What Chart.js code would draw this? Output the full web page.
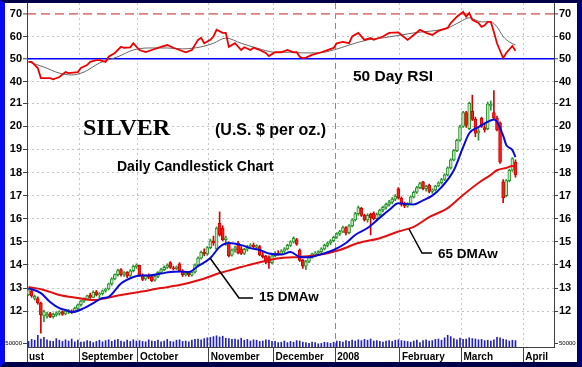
<!DOCTYPE html>
<html><head><meta charset="utf-8">
<script src="https://cdn.jsdelivr.net/npm/chart.js@4.4.1/dist/chart.umd.min.js"></script>
<style>
html,body{margin:0;padding:0;background:#fff;}
#frame{position:absolute;left:0;top:0;width:572px;height:359px;border-style:solid;border-width:3px 5px 5px 5px;border-color:#000048 #00007a #00004a #0a0af0;background:#fff;}
canvas{display:block;}
</style></head><body>
<div id="frame"><canvas id="c" width="572" height="359"></canvas></div>
<script>
// ---- axis ticks ----
const monthTicks = [-0.5, 16.5, 35.5, 58.5, 79.5, 99.5, 120.5, 140.5, 160.5];
const monthLabels = ['ust','September','October','November','December','2008','February','March','April'];
const priceTicks = [12,13,14,15,16,17,18,19,20,21];
const rsiTicks = [40,50,60,70];
const volTicks = [50000];

// ---- daily candles (trading day index 0 = early Aug 2007) ----
const open = [
12.72,12.88,12.55,12.55,12.35,11.80,11.78,11.90,11.76,11.84,11.90,11.98,11.88,11.96,12.02,11.98,12.12,
12.28,12.44,12.52,12.70,12.60,12.84,12.70,12.76,12.88,12.96,13.18,13.40,13.58,13.80,13.60,13.68,13.55,13.75,13.92,
13.98,13.56,13.40,13.55,13.50,13.34,13.50,13.68,13.80,13.90,14.10,13.88,13.84,14.05,13.75,13.58,13.64,13.56,13.70,14.00,14.30,14.55,14.48,
14.75,15.05,14.70,15.80,15.60,15.10,14.95,14.42,14.65,14.95,14.70,14.50,14.68,14.80,14.86,14.76,14.80,14.44,14.38,14.32,14.10,
14.40,14.52,14.48,14.60,14.70,14.85,15.00,15.10,14.65,14.20,13.95,14.15,14.36,14.48,14.52,14.58,14.70,14.85,14.95,15.05,
15.20,15.35,15.45,15.62,15.40,15.70,15.95,16.22,16.45,16.15,15.95,16.20,16.25,16.00,16.18,16.38,16.50,16.62,16.72,16.85,17.30,
16.90,16.62,16.55,16.66,16.95,17.15,17.35,17.60,17.30,17.45,17.18,17.25,17.42,17.56,17.70,17.90,18.20,18.55,18.95,19.40,
20.00,20.60,19.90,20.65,20.30,19.70,20.35,19.95,19.90,20.90,20.60,20.35,20.15,17.60,17.00,17.65,18.10,18.45];
const close = [
12.93,12.66,12.64,12.36,11.85,11.98,11.88,11.76,11.86,11.93,11.97,11.86,12.00,12.04,11.95,12.14,12.28,
12.44,12.54,12.66,12.60,12.82,12.72,12.76,12.88,12.96,13.18,13.40,13.58,13.76,13.58,13.66,13.52,13.75,13.94,14.00,
13.56,13.38,13.54,13.46,13.32,13.50,13.68,13.80,13.90,14.00,13.90,13.84,13.92,13.75,13.58,13.64,13.56,13.68,14.00,14.30,14.55,14.48,14.75,
15.05,14.95,15.60,15.30,15.10,15.18,14.40,14.65,14.74,14.52,14.50,14.68,14.80,14.86,14.78,14.84,14.44,14.36,14.12,14.10,14.40,
14.52,14.48,14.60,14.70,14.85,15.00,15.15,14.90,14.20,13.95,14.15,14.36,14.48,14.52,14.58,14.70,14.85,14.95,15.05,15.20,
15.35,15.45,15.62,15.38,15.70,15.95,16.22,16.48,16.15,15.95,16.15,16.05,16.00,16.18,16.38,16.50,16.62,16.72,16.85,16.98,16.90,
16.62,16.55,16.66,16.95,17.15,17.35,17.52,17.30,17.40,17.18,17.25,17.42,17.56,17.70,17.90,18.20,18.55,18.95,19.40,19.98,
20.60,20.05,21.00,20.30,19.70,19.80,20.00,19.85,20.98,20.95,20.35,19.85,18.45,16.90,17.65,18.10,18.60,17.90];
const high = [
12.98,12.95,12.70,12.62,12.40,12.05,11.95,11.95,11.92,11.98,12.02,12.02,12.05,12.08,12.06,12.18,12.32,
12.48,12.58,12.70,12.78,12.88,12.90,12.80,12.92,13.00,13.22,13.45,13.62,13.82,13.85,13.72,13.72,13.80,13.98,14.05,
14.00,13.62,13.58,13.62,13.55,13.55,13.72,13.86,13.96,14.05,14.15,13.95,13.96,14.10,13.80,13.70,13.68,13.72,14.05,14.35,14.60,14.70,14.80,
15.12,15.25,15.65,16.30,15.70,15.25,15.00,14.70,14.82,15.02,14.80,14.72,14.85,14.92,14.95,14.88,14.85,14.55,14.42,14.40,14.45,
14.58,14.62,14.66,14.75,14.90,15.05,15.22,15.15,14.70,14.25,14.20,14.40,14.52,14.58,14.62,14.75,14.90,15.00,15.10,15.25,
15.40,15.50,15.68,15.66,15.75,16.00,16.28,16.55,16.50,16.20,16.22,16.25,16.30,16.25,16.42,16.55,16.68,16.80,16.92,17.05,17.35,
16.95,16.72,16.70,17.00,17.20,17.40,17.58,17.62,17.45,17.50,17.30,17.45,17.60,17.75,17.95,18.25,18.60,19.00,19.45,20.05,
20.65,20.65,21.05,21.35,20.40,19.90,20.40,20.10,21.05,21.10,21.55,20.45,20.20,17.70,17.70,18.15,18.65,18.55];
const low = [
12.68,12.60,12.48,12.30,11.05,11.55,11.70,11.72,11.70,11.78,11.82,11.82,11.84,11.90,11.90,11.94,12.08,
12.22,12.38,12.48,12.55,12.58,12.66,12.58,12.70,12.82,12.92,13.12,13.35,13.52,13.52,13.50,13.45,13.50,13.70,13.85,
13.50,13.32,13.34,13.40,13.28,13.30,13.45,13.62,13.74,13.85,13.85,13.78,13.80,13.70,13.50,13.52,13.50,13.52,13.65,13.96,14.25,14.40,14.42,
14.70,14.85,14.65,15.25,15.05,14.85,14.35,14.38,14.55,14.48,14.45,14.45,14.60,14.70,14.72,14.70,14.40,14.30,14.05,13.85,14.05,
14.35,14.42,14.44,14.54,14.65,14.80,14.95,14.85,14.15,13.85,13.80,14.10,14.30,14.40,14.45,14.52,14.65,14.78,14.88,15.00,
15.15,15.28,15.40,15.30,15.35,15.65,15.90,16.15,16.10,15.90,15.85,15.30,15.95,15.90,16.12,16.30,16.42,16.55,16.65,16.78,16.85,
16.55,16.48,16.50,16.60,16.90,17.10,17.30,17.25,17.20,17.12,17.10,17.20,17.38,17.50,17.65,17.85,18.15,18.50,18.90,19.35,
19.95,19.95,19.85,20.25,19.55,19.40,19.95,19.75,19.85,20.70,20.30,19.80,18.40,16.70,16.95,17.60,18.05,17.80];
const volume = [
70000,95000,85000,150000,100000,120000,90000,75000,70000,105000,85000,70000,90000,75000,100000,65000,85000,
60000,65000,80000,70000,55000,70000,85000,65000,80000,90000,70000,85000,95000,75000,65000,85000,70000,90000,75000,
80000,70000,65000,90000,75000,70000,85000,65000,75000,95000,70000,65000,85000,90000,70000,75000,65000,85000,95000,100000,90000,105000,115000,
120000,130000,140000,125000,135000,110000,105000,95000,100000,90000,110000,85000,95000,75000,90000,85000,70000,75000,90000,85000,70000,
70000,55000,60000,75000,55000,70000,60000,80000,75000,60000,55000,45000,60000,55000,40000,45000,60000,55000,45000,60000,
75000,70000,60000,80000,70000,85000,75000,90000,80000,95000,85000,100000,75000,80000,70000,60000,75000,80000,70000,85000,90000,
80000,75000,70000,60000,75000,85000,55000,80000,90000,75000,80000,95000,100000,85000,115000,150000,130000,105000,90000,110000,
95000,100000,115000,105000,100000,90000,95000,80000,85000,75000,90000,120000,115000,100000,90000,75000,85000,80000];

// ---- moving averages (day index, value) ----
const ma15Idx = [0,4,7,10,12,14,18,21,24,26,30,34,36,39,43,46,49,52,55,59,62,65,69,72,75,78,82,85,88,91,94,99,103,106,110,114,117,120,125,128,131,134,138,141,143,146,149,151,152,154,155,157,158];
const ma15Val = [13.0,12.78,12.4,12.13,12.05,11.96,12.13,12.35,12.57,12.62,13.2,13.48,13.55,13.55,13.63,13.7,13.72,13.7,13.95,14.3,14.78,14.95,14.86,14.73,14.65,14.5,14.45,14.56,14.35,14.33,14.43,14.65,14.95,15.3,15.6,16.05,16.38,16.67,16.62,16.8,17.0,17.37,18.1,19.1,19.7,19.97,20.2,20.3,20.2,19.6,19.2,18.97,18.67];
const ma65Idx = [0,5,10,16,21,25,30,36,43,49,56,62,69,75,82,88,94,101,107,114,120,125,130,136,141,146,150,152,155,157,158];
const ma65Val = [13.05,12.92,12.7,12.57,12.48,12.56,12.7,12.83,13.0,13.13,13.37,13.65,13.91,14.12,14.3,14.35,14.43,14.65,14.95,15.16,15.45,15.65,16.07,16.46,17.03,17.55,17.9,18.1,18.2,18.28,18.25];

// ---- 50 day RSI and its average (day index, value) ----
const rsiIdx = [0,1,3,4,7,8,10,12,13,16,17,19,20,22,23,25,26,28,30,31,33,34,36,38,40,43,45,47,49,51,53,55,56,57,59,60,61,63,64,65,67,69,70,72,73,75,77,78,80,82,84,86,87,88,89,90,92,95,99,100,102,104,105,107,109,111,112,115,117,120,123,125,127,129,131,133,136,137,139,141,142,143,144,146,147,148,149,150,151,152,154,155,157,158];
const rsiVal = [48.7,48.7,46,41.5,41.5,41,42,44.2,43.7,44.2,46,47.3,48.7,49.5,49.5,48.7,51,52.7,55.4,55,55.2,57,54,53.1,54,55.4,56.2,55,54,53,54,58.5,59.4,57,58.5,60,63,61.6,61.6,55.4,57,54,55.2,54,55,54,52.7,51.3,53,53,54,53,53,51,50.4,50.6,51.8,53,54.9,57,57.6,57,60,61.6,58.5,59.3,58.5,60,61.6,61.8,58.5,60.7,63,61.6,60.7,62.5,63.8,66,68.8,71,68.8,70.5,67.4,66,64.3,65,66.5,66.5,62,57,50.4,52.7,55.8,53.6];
const rsiMaIdx = [0,5,10,14,18,23,29,34,39,45,50,56,60,64,69,74,80,85,89,94,99,104,110,115,121,125,136,140,143,147,150,152,154,156,158];
const rsiMaVal = [48.7,46.4,43.7,42.9,44.2,48.2,51,54,54.9,54.9,54.5,55.4,57,59.3,57,54.9,53,53,52.7,52.7,54,56.2,58.5,59.4,60.7,61.6,63.8,66.5,68.3,66.5,66.5,64.3,60,57.6,56.2];

// ---- styling ----
const UP_FILL = '#bfe9bb', UP_LINE = '#27922a', DN_FILL = '#ff1a1a', DN_LINE = '#d40000';
const FONT = 'Liberation Sans, Arial, sans-serif';
const OX = 5, OY = 3; // canvas offset inside the frame

const isUp = open.map((o, i) => close[i] >= o);
const pts = (xs, ys) => xs.map((x, k) => ({x: x, y: ys[k]}));

const tickFont = {family: FONT, size: 11, weight: 'bold'};
const volFont = {family: FONT, size: 6};
const AX = '#404040';
const GRID = '#c4c4c4';

function yScale(side, stackKey, weight, min, max, tickVals, isRsi, isVol, drawGrid) {
  return {
    type: 'linear', position: side, stack: stackKey, stackWeight: weight,
    min: min, max: max, offset: false,
    afterBuildTicks: s => { s.ticks = tickVals.map(v => ({value: v})); },
    afterFit: s => { s.width = side === 'left' ? 22 : 23; s.paddingTop = 0; s.paddingBottom = 0; },
    ticks: {
      autoSkip: false,
      font: isVol ? volFont : tickFont, color: '#000',
      padding: 1,
      callback: v => String(v)
    },
    grid: {
      drawOnChartArea: drawGrid && !isVol,
      drawTicks: true, tickLength: 4, tickColor: AX, tickWidth: 1,
      color: ctx => {
        const v = ctx.tick ? ctx.tick.value : null;
        if (isRsi && v === 50) return '#0000ff';
        if (isRsi && v === 70) return '#de7f7f';
        return GRID;
      },
      lineWidth: ctx => {
        const v = ctx.tick ? ctx.tick.value : null;
        if (isRsi && v === 50) return 1.6;
        if (isRsi && v === 70) return 1.8;
        return 1;
      }
    },
    border: {
      display: true, color: AX, width: 1,
      dash: ctx => {
        if (ctx.type !== 'tick') return [];
        const v = ctx.tick.value;
        if (isRsi && v === 50) return [];
        if (isRsi && v === 70) return [9, 5];
        return [2, 3];
      }
    }
  };
}

const annot = {
  id: 'annot',
  afterDraw(chart) {
    const c = chart.ctx;
    c.save();
    c.fillStyle = '#000';
    c.textAlign = 'left';
    c.textBaseline = 'alphabetic';
    const T = (txt, x, y, font) => { c.font = font; c.fillText(txt, x - OX, y - OY); };
    T('SILVER', 83, 135, 'bold 24px "Liberation Serif", "Times New Roman", serif');
    T('(U.S. $ per oz.)', 215, 135, 'bold 16px ' + FONT);
    T('Daily Candlestick Chart', 117, 170.5, 'bold 14px ' + FONT);
    T('50 Day RSI', 353, 80.5, 'bold 15.5px ' + FONT);
    T('15 DMAw', 259, 300.5, 'bold 13.5px ' + FONT);
    T('65 DMAw', 438, 257.5, 'bold 13.5px ' + FONT);
    c.strokeStyle = '#000';
    c.lineWidth = 1.5;
    const L = (p) => { c.beginPath(); p.forEach((q, k) => k ? c.lineTo(q[0] - OX, q[1] - OY) : c.moveTo(q[0] - OX, q[1] - OY)); c.stroke(); };
    L([[210, 258], [239, 298], [253, 298]]);
    L([[409, 229], [422, 253], [432, 253]]);
    c.restore();
  }
};

new Chart(document.getElementById('c'), {
  data: {
    datasets: [
      {type: 'line', label: 'RSI', yAxisID: 'yR', xAxisID: 'x', data: pts(rsiIdx, rsiVal),
       borderColor: '#ee0000', borderWidth: 1.8, pointRadius: 0, tension: 0, order: 0},
      {type: 'line', label: 'RSI avg', yAxisID: 'yR', xAxisID: 'x', data: pts(rsiMaIdx, rsiMaVal),
       borderColor: '#666666', borderWidth: 1, pointRadius: 0, tension: 0.4, cubicInterpolationMode: 'monotone', order: 1},
      {type: 'line', label: '15 DMAw', yAxisID: 'yP', xAxisID: 'x', data: pts(ma15Idx, ma15Val),
       borderColor: '#0a0ad8', borderWidth: 2, pointRadius: 0, cubicInterpolationMode: 'monotone', order: 0},
      {type: 'line', label: '65 DMAw', yAxisID: 'yP', xAxisID: 'x', data: pts(ma65Idx, ma65Val),
       borderColor: '#e01010', borderWidth: 2, pointRadius: 0, cubicInterpolationMode: 'monotone', order: 0},
      {type: 'bar', label: 'body', yAxisID: 'yP', xAxisID: 'x', grouped: false,
       data: open.map((o, i) => ({x: i, y: [o, close[i]]})),
       backgroundColor: isUp.map(u => u ? UP_FILL : DN_FILL),
       borderColor: isUp.map(u => u ? UP_LINE : DN_LINE),
       borderWidth: 1, borderSkipped: false, barThickness: 3, order: 2},
      {type: 'bar', label: 'wick', yAxisID: 'yP', xAxisID: 'x', grouped: false,
       data: low.map((l, i) => ({x: i, y: [l, high[i]]})),
       backgroundColor: isUp.map(u => u ? UP_LINE : DN_LINE),
       borderWidth: 0, barThickness: 1, order: 3},
      {type: 'bar', label: 'volume', yAxisID: 'yV', xAxisID: 'x', grouped: false,
       data: volume.map((v, i) => ({x: i, y: v})),
       backgroundColor: '#2222bb', borderWidth: 0, barThickness: 1, order: 4}
    ]
  },
  options: {
    responsive: false, animation: false,
    layout: {padding: 0},
    plugins: {legend: {display: false}, tooltip: {enabled: false}, title: {display: false}},
    scales: {
      x: {
        type: 'linear', position: 'bottom', min: -0.5, max: 170.5, offset: false,
        afterBuildTicks: s => { s.ticks = monthTicks.map(v => ({value: v})); },
        afterFit: s => { s.height = 15; s.paddingLeft = 0; s.paddingRight = 0; },
        ticks: {
          callback: (v, i) => monthLabels[i], align: 'start', labelOffset: 2,
          padding: -11, maxRotation: 0, autoSkip: false,
          font: {family: FONT, size: 10, weight: 'bold'}, color: '#000'
        },
        grid: {
          offset: false,
          drawOnChartArea: true, drawTicks: true, tickLength: 15, tickColor: AX,
          color: ctx => (ctx.tick && ctx.tick.value === 99.5) ? '#8a8a8a' : GRID,
          lineWidth: 1
        },
        border: {
          display: true, color: AX, width: 1,
          dash: ctx => {
            if (ctx.type !== 'tick') return [];
            return ctx.tick.value === 99.5 ? [6, 4] : [2, 3];
          }
        }
      },
      yR: yScale('right', 'R', 85, 37.1, 74.9, rsiTicks, true, false, true),
      yP: yScale('right', 'R', 247, 10.97, 21.66, priceTicks, false, false, true),
      yV: yScale('right', 'R', 12, 0, 150000, volTicks, false, true, false),
      yVL: yScale('left', 'L', 12, 0, 150000, volTicks, false, true, false),
      yPL: yScale('left', 'L', 247, 10.97, 21.66, priceTicks, false, false, false),
      yRL: yScale('left', 'L', 85, 37.1, 74.9, rsiTicks, true, false, false)
    }
  },
  plugins: [annot]
});
</script>
</body></html>
